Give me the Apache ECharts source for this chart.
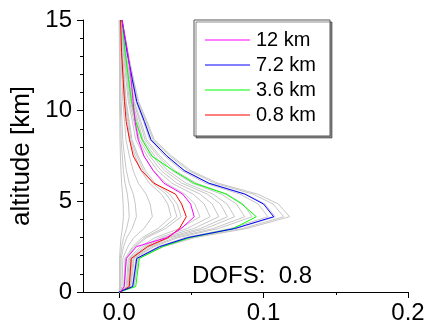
<!DOCTYPE html>
<html>
<head>
<meta charset="utf-8">
<script src="https://cdn.jsdelivr.net/npm/echarts@6/dist/echarts.min.js"></script>
<style>
html,body{margin:0;padding:0;background:#fff;}
#chart{width:428px;height:328px;}
</style>
</head>
<body>
<div id="chart"></div>
<script>
// altitude levels [km]
const altitude = [0, 0.3, 1.85, 2.5, 3.0, 3.5, 4.15, 4.85, 5.4, 6.0, 6.7, 7.5, 8.4, 9.4, 10.5, 11.7, 13.2, 15];

// highlighted averaging kernels
const ak12km  = [0.001, 0.0035, 0.005, 0.012, 0.033, 0.043, 0.052, 0.0495, 0.044, 0.031, 0.0236, 0.0172, 0.0133, 0.011, 0.0097, 0.0084, 0.006, 0.002];
const ak7_2km = [0, 0.0094, 0.0122, 0.028, 0.0475, 0.080, 0.107, 0.100, 0.087, 0.062, 0.045, 0.033, 0.022, 0.0175, 0.0122, 0.0092, 0.0056, 0.002];
const ak3_6km = [0, 0.0115, 0.014, 0.030, 0.049, 0.079, 0.095, 0.085, 0.074, 0.052, 0.0375, 0.0225, 0.016, 0.0115, 0.0086, 0.0066, 0.0042, 0.002];
const ak0_8km = [0.001, 0.007, 0.0084, 0.0196, 0.034, 0.0417, 0.0465, 0.0433, 0.039, 0.024, 0.0154, 0.0098, 0.0072, 0.0049, 0.0037, 0.0028, 0.0017, 0.001];

// remaining averaging kernels (grey)
const greyKernels = [
  [0, .0104, .0135, .0309, .0524, .0883, .118, .1103, .0959, .0684, .0496, .0363, .0243, .0194, .0135, .0101, .0061, .0022],
  [0, .0100, .0130, .0299, .0506, .0853, .114, .1066, .0927, .0661, .0479, .0351, .0235, .0187, .0130, .0098, .0059, .0022],
  [0, .0095, .0123, .0283, .0480, .0808, .108, .1010, .0878, .0626, .0454, .0333, .0222, .0177, .0123, .0093, .0056, .0021],
  [0, .0091, .0117, .0270, .0457, .0770, .103, .0963, .0837, .0597, .0433, .0317, .0212, .0169, .0117, .0089, .0054, .0020],
  [0, .0081, .0105, .0241, .0408, .0688, .092, .0860, .0748, .0534, .0386, .0283, .0190, .0151, .0105, .0079, .0048, .0017],
  [0, .0077, .0099, .0228, .0386, .0651, .087, .0813, .0707, .0505, .0365, .0268, .0179, .0143, .0099, .0075, .0045, .0017],
  [0, .0070, .0091, .0210, .0355, .0598, .080, .0748, .0650, .0464, .0336, .0246, .0165, .0131, .0091, .0069, .0042, .0015],
  [0, .0066, .0086, .0197, .0333, .0561, .075, .0701, .0610, .0435, .0315, .0231, .0155, .0123, .0086, .0065, .0039, .0014],
  [0, .0061, .0079, .0181, .0306, .0516, .069, .0645, .0561, .0400, .0290, .0213, .0142, .0113, .0079, .0059, .0036, .0013],
  [0, .0055, .0072, .0165, .0280, .0471, .063, .0589, .0512, .0365, .0265, .0194, .0130, .0103, .0072, .0054, .0033, .0012],
  [0, .0049, .0064, .0147, .0249, .0419, .056, .0524, .0455, .0325, .0235, .0172, .0115, .0092, .0064, .0048, .0029, .0011],
  [0, .0038, .0049, .0113, .0191, .0322, .043, .0402, .0350, .0249, .0181, .0132, .0089, .0071, .0049, .0037, .0022, .0008],
  [0, .0035, .0046, .0105, .0178, .0299, .040, .0374, .0325, .0232, .0168, .0123, .0082, .0066, .0046, .0034, .0021, .0008],
  [0, .0032, .0041, .0094, .0160, .0269, .036, .0337, .0293, .0209, .0151, .0111, .0074, .0059, .0041, .0031, .0019, .0007],
  [0, .0020, .0026, .0060, .0102, .0172, .023, .0215, .0187, .0133, .0097, .0071, .0047, .0038, .0026, .0020, .0012, .0004],
  [0, .0011, .0014, .0031, .0053, .0090, .012, .0112, .0098, .0070, .0050, .0037, .0025, .0020, .0014, .0010, .0006, .0002],
  [0, .0006, .0008, .0018, .0031, .0052, .007, .0065, .0057, .0041, .0029, .0022, .0014, .0011, .0008, .0006, .0004, .0001],
  [0, .0003, .0003, .0008, .0013, .0022, .003, .0028, .0024, .0017, .0013, .0009, .0006, .0005, .0003, .0003, .0002, .0001]
];

const legendNames = ['12 km', '7.2 km', '3.6 km', '0.8 km'];
const xTickLabels = [0, 0.1, 0.2];
const xMinorTicks = [0.05, 0.15];
const dofsText = 'DOFS:  0.8';

const FONT = 'Liberation Sans, Arial, sans-serif';

function pairs(vals) { return vals.map((v, i) => [v, altitude[i]]); }

const series = [];
greyKernels.forEach((k, i) => {
  series.push({
    name: 'grey' + i, type: 'line', data: pairs(k), symbol: 'none',
    lineStyle: { color: '#c6c6c6', width: 1 }, silent: true, z: 1
  });
});
const colored = [
  { name: legendNames[0], vals: ak12km, color: '#ff00ff' },
  { name: legendNames[1], vals: ak7_2km, color: '#0000ff' },
  { name: legendNames[2], vals: ak3_6km, color: '#00ff00' },
  { name: legendNames[3], vals: ak0_8km, color: '#ff0000' }
];
colored.slice().reverse().forEach(c => {
  series.push({
    name: c.name, type: 'line', data: pairs(c.vals), symbol: 'none',
    color: c.color, itemStyle: { color: c.color },
    lineStyle: { color: c.color, width: 1 }, z: 3
  });
});

const chart = echarts.init(document.getElementById('chart'), null, { renderer: 'canvas' });
chart.setOption({
  animation: false,
  backgroundColor: '#fff',
  grid: { left: 83, right: 20, top: 20, bottom: 36, containLabel: false },
  legend: {
    data: legendNames,
    orient: 'vertical',
    left: 194, top: 20,
    padding: [10, 14, 11, 11],
    icon: 'rect',
    itemWidth: 45, itemHeight: 1, itemGap: 5,
    itemStyle: { borderWidth: 0 },
    backgroundColor: '#fff',
    borderColor: '#555', borderWidth: 1,
    shadowColor: 'rgba(0,0,0,0.45)', shadowOffsetX: 2, shadowOffsetY: 2, shadowBlur: 0,
    textStyle: { fontFamily: FONT, fontSize: 20, color: '#000', lineHeight: 20, height: 20, padding: [0,0,0,1] },
    selectedMode: false
  },
  xAxis: [{
    type: 'value', min: -0.025, max: 0.2,
    axisLine: { show: true, onZero: false, lineStyle: { color: '#000', width: 1 } },
    axisTick: { show: true, inside: false, length: 6, customValues: xTickLabels, lineStyle: { color: '#000' } },
    axisLabel: { customValues: xTickLabels, margin: 9, fontFamily: FONT, fontSize: 24, color: '#000',
      formatter: v => v.toFixed(1) },
    splitLine: { show: false }
  }, {
    type: 'value', min: -0.025, max: 0.2, position: 'bottom',
    axisLine: { show: false },
    axisTick: { show: true, length: 3, customValues: xMinorTicks, lineStyle: { color: '#000' } },
    axisLabel: { show: false },
    splitLine: { show: false }
  }],
  yAxis: {
    type: 'value', min: 0, max: 15, interval: 5,
    name: 'altitude [km]', nameLocation: 'middle', nameGap: 48,
    nameTextStyle: { fontFamily: FONT, fontSize: 26, color: '#000' },
    axisLine: { show: true, onZero: false, lineStyle: { color: '#000', width: 1 } },
    axisTick: { show: true, length: 6, lineStyle: { color: '#000' } },
    minorTick: { show: true, splitNumber: 5, length: 3, lineStyle: { color: '#000' } },
    axisLabel: { margin: 11, fontFamily: FONT, fontSize: 24, color: '#000' },
    splitLine: { show: false }, minorSplitLine: { show: false }
  },
  graphic: [{
    type: 'text', left: 192, top: 264,
    style: { text: dofsText, font: '24px ' + FONT, fill: '#000' }
  }],
  series: series
});
</script>
</body>
</html>
